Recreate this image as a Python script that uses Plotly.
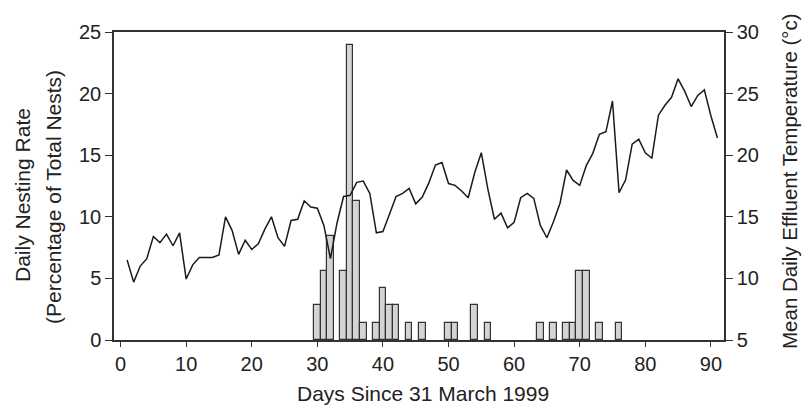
import plotly.graph_objects as go

# ---- data ----
bar_days = [30, 31, 32, 34, 35, 36, 37, 39, 40, 41, 42, 44, 46, 50, 51, 54, 56,
            64, 66, 68, 69, 70, 71, 73, 76]
nest_rate = [2.82, 5.63, 8.45, 5.63, 23.94, 11.27, 1.41, 1.41, 4.23, 2.82, 2.82,
             1.41, 1.41, 1.41, 1.41, 2.82, 1.41, 1.41, 1.41, 1.41, 1.41, 5.63,
             5.63, 1.41, 1.41]

temp_days = list(range(1, 92))
temperature = [
    11.5, 9.7, 11.0, 11.6, 13.4, 12.9, 13.6, 12.65, 13.7, 9.95,
    11.1, 11.7, 11.7, 11.7, 11.9, 15.0, 13.9, 11.95, 13.1, 12.35,
    12.8, 14.0, 15.0, 13.3, 12.6, 14.7, 14.8, 16.3, 15.8, 15.7,
    14.3, 11.6, 14.5, 16.65, 16.75, 17.8, 17.9, 16.9, 13.7, 13.8,
    15.2, 16.65, 16.9, 17.3, 16.05, 16.6, 17.75, 19.2, 19.4, 17.7,
    17.55, 17.1, 16.55, 18.6, 20.2, 17.25, 14.8, 15.3, 14.1, 14.55,
    16.55, 16.9, 16.5, 14.3, 13.3, 14.6, 16.1, 18.8, 17.95, 17.55,
    19.15, 20.15, 21.7, 21.9, 24.4, 16.95, 18.0, 20.9, 21.3, 20.2,
    19.75, 23.25, 24.05, 24.7, 26.2, 25.2, 23.95, 24.85, 25.3, 23.2,
    21.4,
]

x_ticks = [0, 10, 20, 30, 40, 50, 60, 70, 80, 90]
left_ticks = [0, 5, 10, 15, 20, 25]
right_ticks = [5, 10, 15, 20, 25, 30]

x_title = "Days Since 31 March 1999"
left_title_1 = "Daily Nesting Rate"
left_title_2 = "(Percentage of Total Nests)"
right_title = "Mean Daily Effluent Temperature (°c)"

# ---- figure ----
W, H = 803, 409
L, R, T, B = 114, 79, 32, 69
pw, ph = W - L - R, H - T - B
axis_col = "#333333"
txt_col = "#222222"
FONT = "Liberation Sans, Arial, Helvetica, sans-serif"


def px_x(px):
    return (px - L) / pw


def px_y(py):
    return (H - B - py) / ph


fig = go.Figure()
fig.add_trace(go.Bar(
    x=bar_days, y=nest_rate, width=1.0,
    marker=dict(color="#d4d4d4", line=dict(color="#333333", width=1.2)),
    yaxis="y", showlegend=False,
))
fig.add_trace(go.Scatter(
    x=temp_days, y=temperature, mode="lines",
    line=dict(color="#1a1a1a", width=1.5),
    yaxis="y2", showlegend=False,
))

tickfont = dict(family=FONT, size=20, color=txt_col)
titlefont = dict(family=FONT, size=21, color=txt_col)

fig.update_layout(
    width=W, height=H,
    margin=dict(l=L, r=R, t=T, b=B, pad=0),
    paper_bgcolor="white", plot_bgcolor="white",
    bargap=0,
    xaxis=dict(
        range=[-1, 92], tickvals=x_ticks, ticks="outside", ticklen=5,
        tickwidth=1.3, tickcolor=axis_col, showline=True, linecolor=axis_col,
        linewidth=1.5, mirror=True, showgrid=False, zeroline=False,
        tickfont=tickfont,
    ),
    yaxis=dict(
        range=[0, 25], tickvals=left_ticks, ticks="outside", ticklen=7,
        tickwidth=1.3, tickcolor=axis_col, showline=True, linecolor=axis_col,
        linewidth=1.5, showgrid=False, zeroline=False, tickfont=tickfont,
    ),
    yaxis2=dict(
        range=[5, 30], tickvals=right_ticks, ticks="outside", ticklen=7,
        tickwidth=1.3, tickcolor=axis_col, showline=True, linecolor=axis_col,
        linewidth=1.5, showgrid=False, zeroline=False, tickfont=tickfont,
        overlaying="y", side="right",
    ),
    annotations=[
        dict(text=x_title, xref="paper", yref="paper", x=px_x(423), y=px_y(393),
             showarrow=False, xanchor="center", yanchor="middle", font=titlefont),
        dict(text=left_title_1, xref="paper", yref="paper", x=px_x(22), y=px_y(195),
             showarrow=False, xanchor="center", yanchor="middle", textangle=-90,
             font=titlefont),
        dict(text=left_title_2, xref="paper", yref="paper", x=px_x(53), y=px_y(197),
             showarrow=False, xanchor="center", yanchor="middle", textangle=-90,
             font=titlefont),
        dict(text=right_title, xref="paper", yref="paper", x=px_x(789), y=px_y(181),
             showarrow=False, xanchor="center", yanchor="middle", textangle=-90,
             font=dict(family=FONT, size=20.5, color=txt_col)),
    ],
)

fig.write_html("out.html")
